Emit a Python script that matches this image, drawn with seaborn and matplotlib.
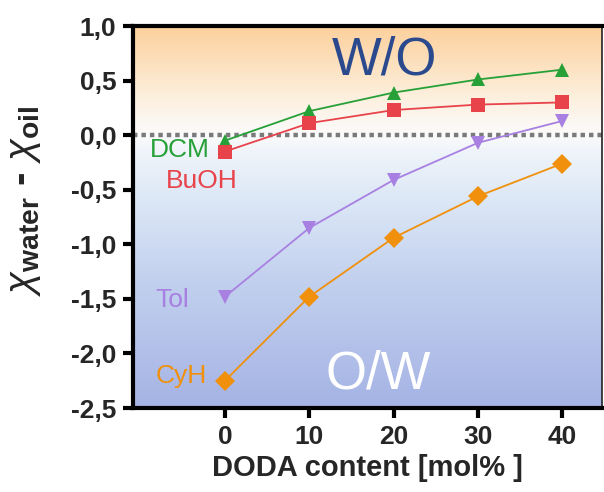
import numpy as np
import pandas as pd
import matplotlib
matplotlib.use("Agg")
import matplotlib.pyplot as plt
from matplotlib.colors import LinearSegmentedColormap
from matplotlib.ticker import FuncFormatter
import seaborn as sns

# DODA content (mol%) and chi_water - chi_oil for each oil phase
doda = [0, 10, 20, 30, 40]
dcm = [-0.05, 0.22, 0.39, 0.51, 0.60]
buoh = [-0.15, 0.11, 0.23, 0.28, 0.30]
tol = [-1.48, -0.85, -0.41, -0.07, 0.13]
cyh = [-2.25, -1.48, -0.94, -0.56, -0.26]

solvents = ["DCM", "BuOH", "Tol", "CyH"]
colors = {"DCM": "#27a038", "BuOH": "#e8434b", "Tol": "#a880e2", "CyH": "#f0900c"}
markers = {"DCM": "^", "BuOH": "s", "Tol": "v", "CyH": "D"}
xticks = [0, 10, 20, 30, 40]
yticks = [1.0, 0.5, 0.0, -0.5, -1.0, -1.5, -2.0, -2.5]

df = pd.DataFrame({
    "DODA": doda * 4,
    "chi": dcm + buoh + tol + cyh,
    "solvent": [s for s in solvents for _ in doda],
})

sns.set_style("white")
plt.rcParams["font.family"] = ["Liberation Sans", "DejaVu Sans"]
plt.rcParams["mathtext.fontset"] = "custom"
plt.rcParams["mathtext.rm"] = "Liberation Sans"
plt.rcParams["mathtext.bf"] = "Liberation Sans:bold"
plt.rcParams["mathtext.it"] = "Liberation Sans:italic"

fig = plt.figure(figsize=(6.04, 4.92), dpi=100)
ax = fig.add_axes([133 / 604, 1 - 408 / 492, 469 / 604, 382 / 492])

xmin, xmax = -10.9, 44.7
ymin, ymax = -2.5, 1.0

# background: orange (W/O) above, blue (O/W) below
bg = LinearSegmentedColormap.from_list("phase", [
    (0.0, "#a5b3e5"),
    (0.35, "#c4d2ef"),
    (0.55, "#dde8f6"),
    (0.66, "#edf3fa"),
    (0.72, "#fbfbfb"),
    (0.82, "#fdefdc"),
    (1.0, "#fcd09c"),
])
grad = np.linspace(0, 1, 256).reshape(-1, 1)
ax.imshow(grad, cmap=bg, origin="lower", aspect="auto",
          extent=[xmin, xmax, ymin, ymax], zorder=0)

ax.axhline(0, color="#7a7a7a", lw=3.2, ls=(0, (1, 0.9)), zorder=1)

sns.lineplot(data=df, x="DODA", y="chi", hue="solvent", style="solvent",
             palette=colors, markers=markers, dashes=False, lw=1.3,
             markersize=10.5, markeredgewidth=0, legend=False, ax=ax, zorder=3)

ax.set_xlim(xmin, xmax)
ax.set_ylim(ymin, ymax)
ax.set_xticks(xticks)
ax.set_yticks(yticks)
ax.yaxis.set_major_formatter(FuncFormatter(lambda v, p: f"{v:.1f}".replace(".", ",")))
ax.tick_params(axis="both", which="major", length=7, width=3, color="black",
               labelsize=19, direction="out", pad=5, left=True, bottom=True)
for lab in ax.get_xticklabels() + ax.get_yticklabels():
    lab.set_fontweight("bold")

for side in ["left", "bottom", "top"]:
    ax.spines[side].set_linewidth(3)
    ax.spines[side].set_color("black")
ax.spines["right"].set_linewidth(1.2)
ax.spines["right"].set_color("#222222")

ax.set_xlabel("DODA content [mol% ]", fontsize=21, fontweight="bold", labelpad=4)
ax.set_ylabel(r"$\chi_{\mathbf{water}}$ - $\chi_{\mathbf{oil}}$",
              fontsize=29, fontweight="bold")
ax.yaxis.set_label_coords(-0.192, 0.542)

ax.text(-5.3, -0.14, "DCM", color=colors["DCM"], fontsize=19, ha="center", va="center")
ax.text(-2.7, -0.42, "BuOH", color=colors["BuOH"], fontsize=19, ha="center", va="center")
ax.text(-6.3, -1.51, "Tol", color=colors["Tol"], fontsize=19, ha="center", va="center")
ax.text(-5.2, -2.21, "CyH", color=colors["CyH"], fontsize=19, ha="center", va="center")

ax.text(18.9, 0.68, "W/O", color="#2b4a8e", fontsize=38, ha="center", va="center")
ax.text(18.2, -2.19, "O/W", color="white", fontsize=38, ha="center", va="center")

fig.savefig("out.png", dpi=100)
